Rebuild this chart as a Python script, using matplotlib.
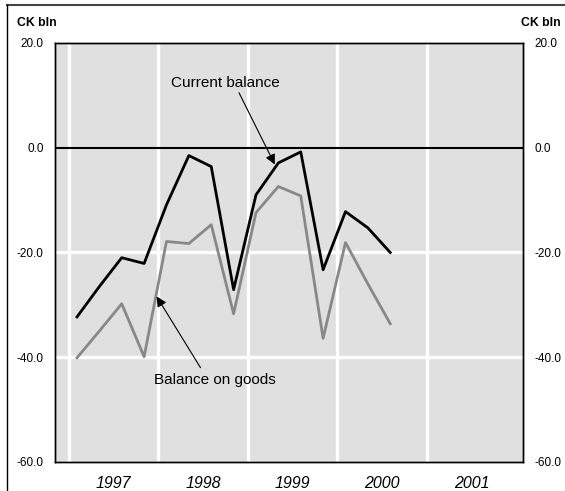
import matplotlib.pyplot as plt
from matplotlib.lines import Line2D

plt.rcParams['font.family'] = ['Liberation Sans', 'DejaVu Sans']

# Quarterly data, 1997 Q1 - 2000 Q3 (CK bln)
quarters = [1997.09 + 0.25 * i for i in range(15)]
current_balance = [-32.3, -26.5, -21.0, -22.1, -10.9, -1.5, -3.6, -27.1,
                   -9.0, -2.9, -0.8, -23.3, -12.2, -15.3, -20.0]
goods_balance = [-40.1, -35.0, -29.8, -39.9, -17.9, -18.3, -14.7, -31.7,
                 -12.4, -7.4, -9.2, -36.4, -18.1, -26.0, -33.6]
years = [1997, 1998, 1999, 2000, 2001]
y_ticks = [20, 0, -20, -40, -60]

fig = plt.figure(figsize=(5.65, 4.91), dpi=100)
ax = fig.add_axes([0.0973, 0.0591, 0.8283, 0.8534])
ax.set_facecolor('#e0e0e0')

ax.set_xlim(1996.844, 2002.073)
ax.set_ylim(-60, 20)

# white grid
for yr in years:
    ax.axvline(yr, color='white', lw=2.4, zorder=1)
for v in [-20, -40]:
    ax.axhline(v, color='white', lw=2.4, zorder=1)
ax.axhline(0, color='black', lw=1.5, zorder=2)

ax.plot(quarters, goods_balance, color='#888888', lw=2.0, zorder=3)
ax.plot(quarters, current_balance, color='black', lw=2.0, zorder=4)

ax.set_xticks([y + 0.5 for y in years])
ax.set_xticklabels([str(y) for y in years], fontsize=11.5, style='italic')
ax.set_yticks(y_ticks)
ax.set_yticklabels(['%.1f' % v for v in y_ticks], fontsize=8.5)
ax.tick_params(length=0, pad=8)
ax.tick_params(axis='x', pad=10)

ax2 = ax.twinx()
ax2.set_ylim(-60, 20)
ax2.set_yticks(y_ticks)
ax2.set_yticklabels(['%.1f' % v for v in y_ticks], fontsize=8.5)
ax2.tick_params(length=0, pad=8)

for a in (ax, ax2):
    for s in a.spines.values():
        s.set_linewidth(1.0)
        s.set_color('black')

arrow = dict(arrowstyle='-|>', color='black', lw=0.8, mutation_scale=15,
             shrinkA=0, shrinkB=0)
ax.text(1998.75, 12.4, 'Current balance', fontsize=11, ha='center', va='center')
ax.annotate('', xy=(1999.30, -3.2), xytext=(1998.90, 10.5), arrowprops=arrow)
ax.text(1998.63, -44.3, 'Balance on goods', fontsize=11, ha='center', va='center')
ax.annotate('', xy=(1997.98, -28.4), xytext=(1998.47, -42.0), arrowprops=arrow)

fig.text(0.030, 0.953, 'CK bln', fontsize=8.8, weight='bold', va='center')
fig.text(0.992, 0.953, 'CK bln', fontsize=8.8, weight='bold', va='center', ha='right')

# outer frame lines (top and left)
fig.add_artist(Line2D([7 / 565, 1], [1 - 5 / 491] * 2, color='#444444', lw=1.5))
fig.add_artist(Line2D([7 / 565] * 2, [0, 1 - 5 / 491], color='black', lw=1.0))

fig.savefig('out.png', dpi=100)
